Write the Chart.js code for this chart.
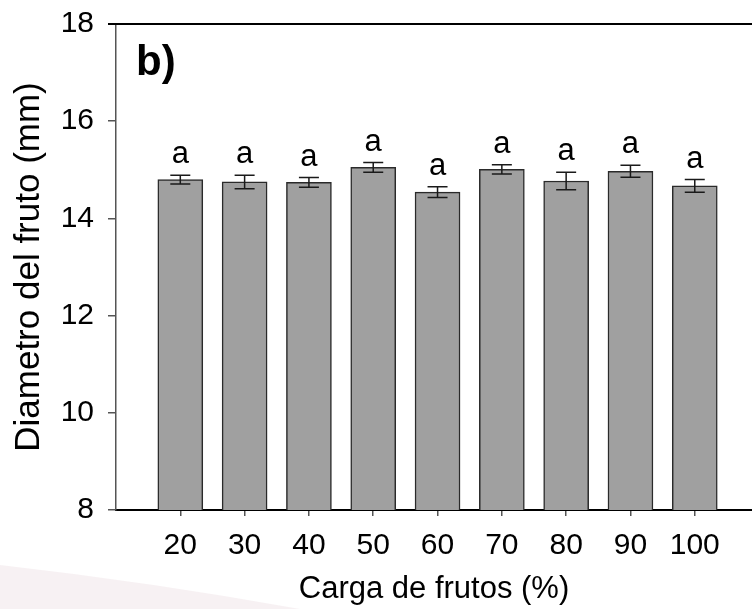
<!DOCTYPE html>
<html>
<head>
<meta charset="utf-8">
<script src="https://cdn.jsdelivr.net/npm/chart.js@4"></script>
<style>
  html, body { margin: 0; padding: 0; background: #fff; }
  #wrap { width: 752px; height: 609px; position: relative; }
</style>
</head>
<body>
<div id="wrap"><canvas id="chart"></canvas></div>
<script>
// carga de frutos (%)
const cargas = [20, 30, 40, 50, 60, 70, 80, 90, 100];
// diametro medio (mm) y error estandar
const diametro = [14.80, 14.75, 14.74, 15.05, 14.54, 15.01, 14.77, 14.97, 14.67];
const errores = [0.09, 0.14, 0.10, 0.10, 0.11, 0.095, 0.18, 0.125, 0.13];
const letras = ['a', 'a', 'a', 'a', 'a', 'a', 'a', 'a', 'a'];
const yTicks = [8, 10, 12, 14, 16, 18];

const FONT = "'Liberation Sans', Arial, sans-serif";

// error bars, letters, top frame line, panel label
const extras = {
    id: 'extras',
    beforeDraw(chart) {
        const ctx = chart.ctx;
        // faint watermark swoosh
        ctx.save();
        ctx.fillStyle = 'rgba(220, 190, 200, 0.22)';
        ctx.beginPath();
        ctx.moveTo(0, 565);
        ctx.quadraticCurveTo(150, 582, 300, 609);
        ctx.lineTo(0, 609);
        ctx.closePath();
        ctx.fill();
        ctx.restore();
    },
    afterDatasetsDraw(chart) {
        const ctx = chart.ctx;
        const x = chart.scales.x, y = chart.scales.y;
        const area = chart.chartArea;
        ctx.save();
        ctx.strokeStyle = '#1a1a1a';
        ctx.lineWidth = 1.5;
        cargas.forEach((c, i) => {
            const px = x.getPixelForValue(c);
            const top = y.getPixelForValue(diametro[i] + errores[i]);
            const bot = y.getPixelForValue(diametro[i] - errores[i]);
            ctx.beginPath();
            ctx.moveTo(px, top); ctx.lineTo(px, bot);
            ctx.moveTo(px - 10, top); ctx.lineTo(px + 10, top);
            ctx.moveTo(px - 10, bot); ctx.lineTo(px + 10, bot);
            ctx.stroke();
        });
        ctx.fillStyle = '#000';
        ctx.font = '31px ' + FONT;
        ctx.textAlign = 'center';
        ctx.textBaseline = 'alphabetic';
        cargas.forEach((c, i) => {
            const px = x.getPixelForValue(c);
            const top = y.getPixelForValue(diametro[i] + errores[i]);
            ctx.fillText(letras[i], px, top - 12);
        });
        // top frame line
        ctx.strokeStyle = '#000';
        ctx.lineWidth = 2;
        ctx.beginPath();
        ctx.moveTo(area.left - 8, area.top);
        ctx.lineTo(area.right, area.top);
        ctx.stroke();
        // panel label
        ctx.font = 'bold 42px ' + FONT;
        ctx.textAlign = 'left';
        ctx.fillText('b)', area.left + 20, 75);
        ctx.restore();
    }
};

new Chart(document.getElementById('chart'), {
    type: 'bar',
    data: {
        datasets: [{
            data: cargas.map((c, i) => ({ x: c, y: diametro[i] })),
            backgroundColor: '#a0a0a0',
            borderColor: '#2a2a2a',
            borderWidth: 1.5,
            barThickness: 45
        }]
    },
    options: {
        responsive: true,
        maintainAspectRatio: false,
        animation: false,
        layout: { padding: { top: 24, right: 0, left: 0, bottom: 0 } },
        plugins: { legend: { display: false }, tooltip: { enabled: false } },
        scales: {
            x: {
                type: 'linear',
                offset: false,
                min: 10,
                max: 108.9,
                afterBuildTicks: s => { s.ticks = cargas.map(v => ({ value: v })); },
                afterFit: s => { s.height = 99; s.paddingLeft = 0; s.paddingRight = 0; },
                grid: { offset: false, drawOnChartArea: false, drawTicks: true, tickLength: 6, color: '#555', lineWidth: 1.5 },
                border: { color: '#000', width: 2 },
                ticks: { color: '#000', font: { family: FONT, size: 30 }, padding: 12, maxRotation: 0 },
                title: {
                    display: true,
                    text: 'Carga de frutos (%)',
                    color: '#000',
                    font: { family: FONT, size: 31 },
                    padding: { top: 0, bottom: 1 }
                }
            },
            y: {
                min: 8,
                max: 18,
                afterBuildTicks: s => { s.ticks = yTicks.map(v => ({ value: v })); },
                afterFit: s => { s.width = 116; s.paddingTop = 0; s.paddingBottom = 0; },
                grid: { drawOnChartArea: false, drawTicks: true, tickLength: 8, color: '#555', lineWidth: 1.5 },
                border: { color: '#555', width: 1.5 },
                ticks: { color: '#000', font: { family: FONT, size: 30 }, padding: 14 },
                title: {
                    display: true,
                    text: 'Diametro del fruto (mm)',
                    color: '#000',
                    font: { family: FONT, size: 35 },
                    padding: { top: 8, bottom: 0 }
                }
            }
        }
    },
    plugins: [extras]
});
</script>
</body>
</html>
